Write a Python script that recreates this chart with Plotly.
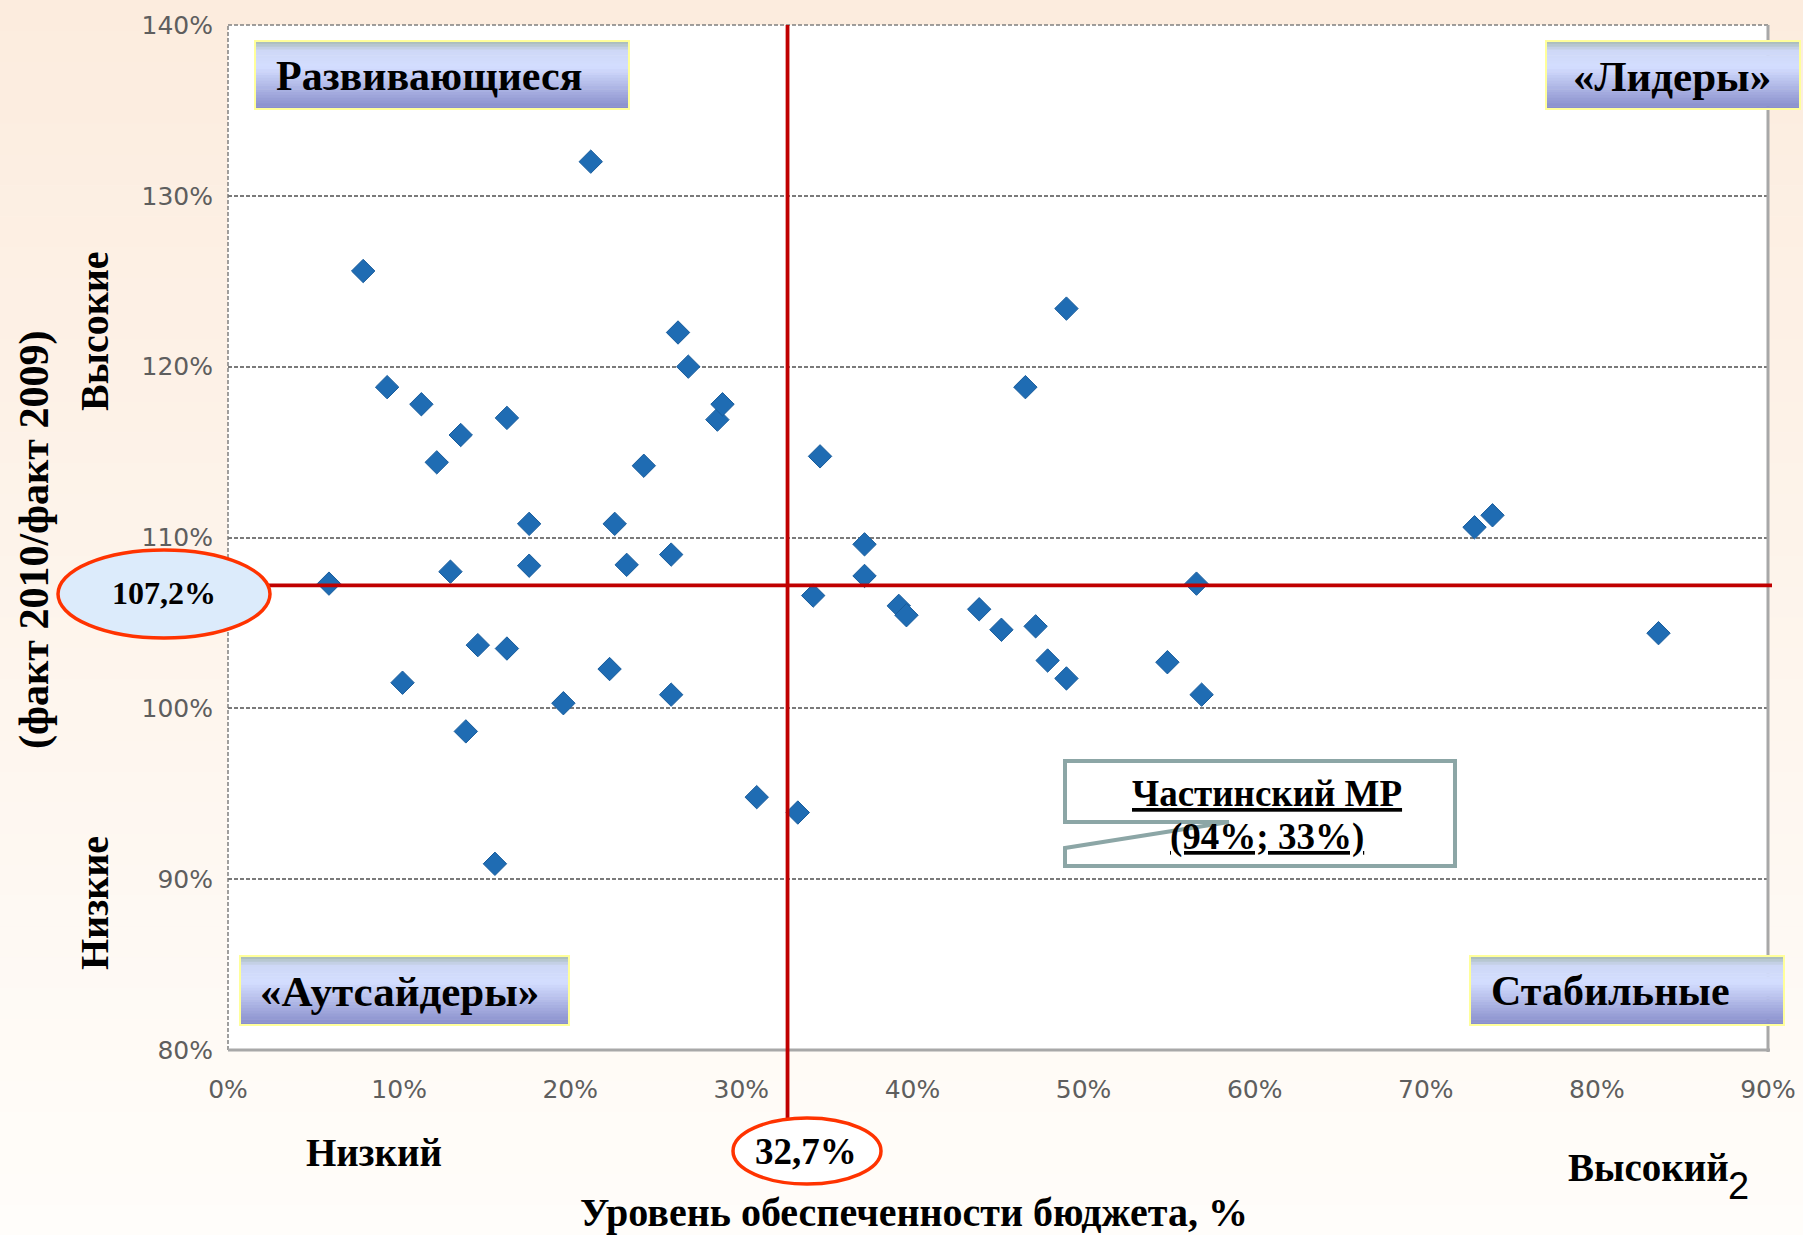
import plotly.graph_objects as go

# ---------------- data ----------------
x_share = [5.9, 7.9, 9.3, 10.2, 11.3, 12.2, 13.0, 13.6, 13.9, 14.6, 15.6, 16.3, 16.3, 17.6, 17.6,
           19.6, 21.2, 22.3, 22.6, 23.3, 24.3, 25.9, 25.9, 26.3, 26.9, 28.6, 28.9, 30.9, 33.3, 34.2,
           34.6, 37.2, 37.2, 39.2, 39.65, 43.9, 45.2, 46.6, 47.2, 47.9, 49.0, 49.0, 54.9, 56.6, 56.9,
           72.85, 73.9, 83.6]
y_growth = [107.3, 125.6, 118.8, 101.5, 117.8, 114.4, 108.0, 116.0, 98.65, 103.7, 90.9, 117.0, 103.5,
            110.8, 108.35, 100.3, 132.0, 102.3, 110.8, 108.4, 114.2, 100.8, 109.0, 122.0, 120.0, 116.9,
            117.8, 94.8, 93.9, 106.6, 114.75, 109.6, 107.75, 106.0, 105.45, 105.8, 104.6, 118.8, 104.8,
            102.8, 123.4, 101.75, 102.7, 107.3, 100.8, 110.6, 111.3, 104.4]

x_ticks = [0, 10, 20, 30, 40, 50, 60, 70, 80, 90]
y_ticks = [80, 90, 100, 110, 120, 130, 140]

x_mean = 32.7
y_mean = 107.2
x_mean_label = "32,7%"
y_mean_label = "107,2%"

quadrant_labels = ["Развивающиеся", "«Лидеры»", "«Аутсайдеры»", "Стабильные"]
callout_lines = ["Частинский МР", "(94%; 33%)"]
x_title = "Уровень обеспеченности бюджета, %"
y_title = "(факт 2010/факт 2009)"
y_high, y_low = "Высокие", "Низкие"
x_low, x_high = "Низкий", "Высокий"
slide_no = "2"

# ---------------- geometry helpers ----------------
W, H = 1803, 1235
L, R, T, B = 228, 35, 25, 185
PW, PH = W - L - R, H - T - B


def px(x):
    return (x - L) / PW


def py(y):
    return (H - B - y) / PH


def lerp_color(stops, t):
    for i in range(len(stops) - 1):
        t0, c0 = stops[i]
        t1, c1 = stops[i + 1]
        if t0 <= t <= t1:
            f = (t - t0) / (t1 - t0) if t1 > t0 else 0
            c = [round(c0[k] + (c1[k] - c0[k]) * f) for k in range(3)]
            return f"rgb({c[0]},{c[1]},{c[2]})"
    c = stops[-1][1]
    return f"rgb({c[0]},{c[1]},{c[2]})"


shapes = []


def vgrad(x0, y0, x1, y1, stops, n, layer):
    for i in range(n):
        ya = y0 + (y1 - y0) * i / n
        yb = y0 + (y1 - y0) * (i + 1) / n + 0.6
        shapes.append(dict(type="rect", xref="paper", yref="paper",
                           x0=px(x0), x1=px(x1), y0=py(ya), y1=py(yb),
                           fillcolor=lerp_color(stops, (i + 0.5) / n),
                           line=dict(width=0), layer=layer))


# page background gradient
vgrad(0, 0, W, H, [(0, (252, 236, 222)), (1, (255, 253, 250))], 40, "below")
# plot area white
shapes.append(dict(type="rect", xref="paper", yref="paper", x0=0, x1=1, y0=0, y1=1,
                   fillcolor="white", line=dict(width=0), layer="below"))

# frame
shapes.append(dict(type="line", xref="paper", yref="paper", x0=0, x1=0, y0=0, y1=1,
                   line=dict(color="#808080", width=1.5, dash="4px,2px"), layer="below"))
shapes.append(dict(type="line", xref="paper", yref="paper", x0=0, x1=1, y0=1, y1=1,
                   line=dict(color="#808080", width=1.5, dash="4px,2px"), layer="below"))
shapes.append(dict(type="line", xref="paper", yref="paper", x0=1, x1=1, y0=py(H - B + 2), y1=1,
                   line=dict(color="#A8A8A8", width=3), layer="above"))
shapes.append(dict(type="line", xref="paper", yref="paper", x0=0, x1=px(W - R + 2), y0=0, y1=0,
                   line=dict(color="#A8A8A8", width=3), layer="above"))

# mean lines
shapes.append(dict(type="line", xref="x", yref="paper", x0=x_mean, x1=x_mean, y0=1, y1=py(1120),
                   line=dict(color="#C00000", width=3.8), layer="above"))
shapes.append(dict(type="line", xref="paper", yref="y", x0=0, x1=px(W - R + 4), y0=y_mean, y1=y_mean,
                   line=dict(color="#C00000", width=3.8), layer="above"))

# ellipses
shapes.append(dict(type="circle", xref="paper", yref="paper", x0=px(58), x1=px(270), y0=py(550), y1=py(638),
                   fillcolor="#DCEBFB", line=dict(color="#FF3300", width=3.5), layer="above"))
shapes.append(dict(type="circle", xref="paper", yref="paper", x0=px(733), x1=px(881), y0=py(1118), y1=py(1184),
                   fillcolor="#FFFFFF", line=dict(color="#FF3300", width=3.5), layer="above"))

# quadrant boxes
box_stops = [(0, (165, 185, 178)), (0.14, (206, 216, 246)), (0.38, (212, 222, 255)), (1, (134, 140, 202))]
boxes = [(255, 41, 629, 109), (1546, 41, 1800, 109), (240, 956, 569, 1025), (1470, 956, 1784, 1025)]
for (bx0, by0, bx1, by1) in boxes:
    vgrad(bx0, by0, bx1, by1, box_stops, 24, "above")
    shapes.append(dict(type="rect", xref="paper", yref="paper", x0=px(bx0), x1=px(bx1), y0=py(by0), y1=py(by1),
                       line=dict(color="#FFFF9A", width=2), layer="above"))

# callout box
pts = [(1065, 761), (1455, 761), (1455, 866), (1065, 866), (1065, 848), (1229, 822), (1065, 822)]
path = "M " + " L ".join(f"{px(a):.5f},{py(b):.5f}" for a, b in pts) + " Z"
shapes.append(dict(type="path", xref="paper", yref="paper", path=path,
                   fillcolor="white", line=dict(color="#8CA6A6", width=4), layer="above"))

# ---------------- figure ----------------
fig = go.Figure()
fig.add_trace(go.Scatter(
    x=x_share, y=y_growth, mode="markers",
    marker=dict(symbol="diamond", size=18, color="#1F6CB3", line=dict(color="#185C9C", width=1)),
    hoverinfo="x+y", showlegend=False, cliponaxis=False))

serif = "Liberation Serif"
ann = []


def text(s, x, y, size, xanchor="center", angle=0, family=serif, weight="bold", color="black"):
    ann.append(dict(text=s, xref="paper", yref="paper", x=px(x), y=py(y), showarrow=False,
                    xanchor=xanchor, yanchor="middle", textangle=angle,
                    font=dict(family=family, size=size, color=color, weight=weight)))


text(quadrant_labels[0], 274, 76, 42, xanchor="left")
text(quadrant_labels[1], 1672, 76, 43)
text(quadrant_labels[2], 258, 991, 43, xanchor="left")
text(quadrant_labels[3], 1489, 991, 42, xanchor="left")
text(y_mean_label, 164, 593, 32)
text(x_mean_label, 806, 1151, 37)
text(y_high, 94, 331, 40, angle=-90)
text(y_low, 94, 903, 40, angle=-90)
text(y_title, 34, 540, 42, angle=-90)
text(x_low, 374, 1152, 39)
text(x_high, 1648, 1167, 39)
text(x_title, 914, 1212, 40)
text(slide_no, 1738, 1186, 38, family="Liberation Sans", weight="normal")
text("<u>" + callout_lines[0] + "</u>", 1267, 793, 37)
text("<u>" + callout_lines[1] + "</u>", 1267, 837, 37)

tickfont = dict(family="DejaVu Sans", size=25, color="#5E5E5E")
fig.update_layout(
    width=W, height=H,
    margin=dict(l=L, r=R, t=T, b=B, autoexpand=False),
    paper_bgcolor="#FEF6EF", plot_bgcolor="white",
    shapes=shapes, annotations=ann, showlegend=False,
    xaxis=dict(range=[0, 90], tickvals=x_ticks, ticktext=[f"{v}%" for v in x_ticks],
               showgrid=False, zeroline=False, showline=False, ticks="",
               tickfont=tickfont, ticklabelstandoff=22, fixedrange=True),
    yaxis=dict(range=[80, 140], tickvals=y_ticks, ticktext=[f"{v}%" for v in y_ticks],
               showgrid=True, gridcolor="#7A7A7A", gridwidth=1.5, griddash="4px,2px",
               zeroline=False, showline=False, ticks="",
               tickfont=tickfont, ticklabelstandoff=14, fixedrange=True),
)

fig.write_html("out.html", config={"displayModeBar": False},
               post_script="document.body.style.margin='0';document.body.style.overflow='hidden';")
